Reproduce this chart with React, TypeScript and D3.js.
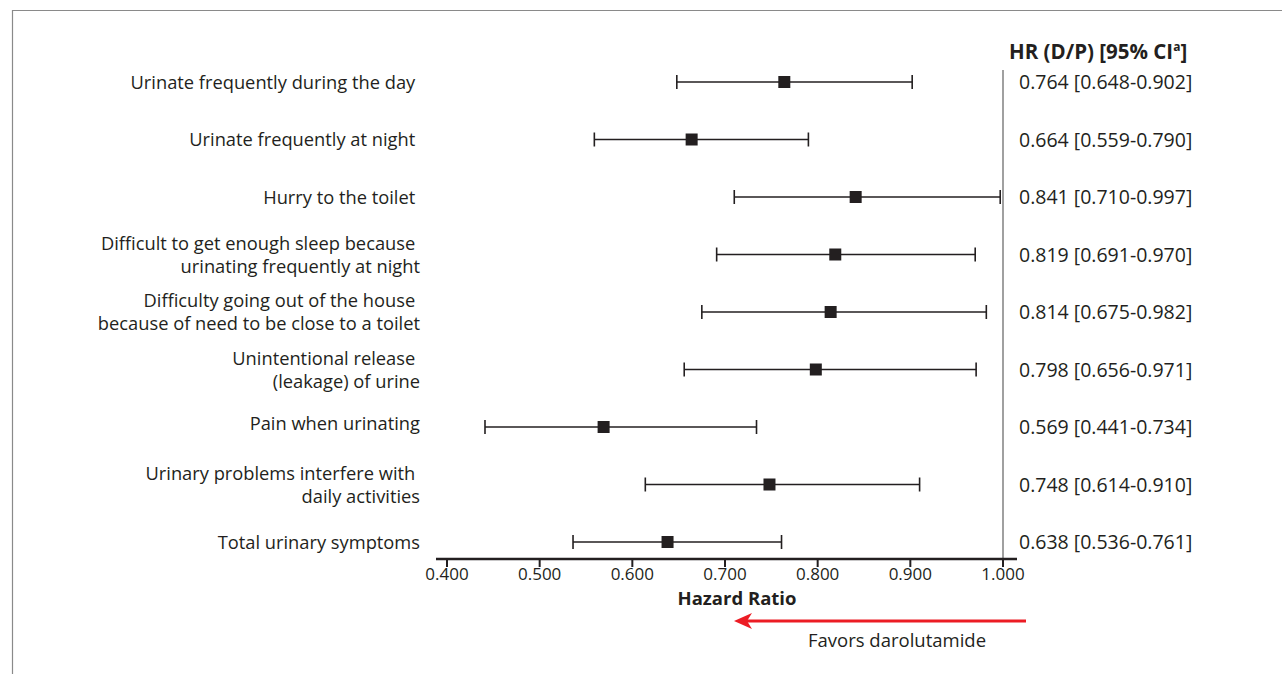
import React from "react";
import * as d3 from "d3";

// symptom labels, one entry per row (trailing spaces kept as in the source)
const labels: string[][] = [
  ["Urinate frequently during the day "],
  ["Urinate frequently at night "],
  ["Hurry to the toilet "],
  ["Difficult to get enough sleep because ", "urinating frequently at night"],
  ["Difficulty going out of the house ", "because of need to be close to a toilet"],
  ["Unintentional release ", "(leakage) of urine"],
  ["Pain when urinating"],
  ["Urinary problems interfere with ", "daily activities"],
  ["Total urinary symptoms"],
];
const hr = [0.764, 0.664, 0.841, 0.819, 0.814, 0.798, 0.569, 0.748, 0.638];
const lower = [0.648, 0.559, 0.71, 0.691, 0.675, 0.656, 0.441, 0.614, 0.536];
const upper = [0.902, 0.79, 0.997, 0.97, 0.982, 0.971, 0.734, 0.91, 0.761];
const ticks = [0.4, 0.5, 0.6, 0.7, 0.8, 0.9, 1.0];

const W = 1282;
const H = 674;
const FONT = "'Open Sans', 'Noto Sans', sans-serif";
const INK = "#231f20";

export default function App() {
  const x = d3.scaleLinear().domain([0.4, 1.0]).range([447, 1003]);
  const y = d3
    .scalePoint<number>()
    .domain(d3.range(hr.length))
    .range([82, 542]);
  const axisY = 559;
  const fmt = d3.format(".3f");

  return (
    <svg
      width={W}
      height={H}
      style={{ position: "absolute", left: 0, top: 0, background: "#fff" }}
      fontFamily={FONT}
    >
      {/* frame */}
      <path d={`M12.5,${H} V10.5 H${W}`} fill="none" stroke="#8a8a8a" strokeWidth={1.2} />

      {/* reference line at HR = 1 */}
      <line x1={x(1)} x2={x(1)} y1={70} y2={axisY} stroke="#a0a0a0" strokeWidth={2} />

      {/* row labels, two-line ones split into separate texts */}
      {labels.map((lines, i) =>
        lines.map((t, j) => (
          <text
            key={`${i}-${j}`}
            x={420}
            y={y(i)! + 6.5 + (lines.length === 2 ? (j === 0 ? -11.5 : 11.5) : i === 6 ? -4 : 0)}
            textAnchor="end"
            fontSize={18.3}
            fill={INK}
            style={{ whiteSpace: "pre" }}
          >
            {t}
          </text>
        ))
      )}

      {/* confidence intervals and point estimates */}
      {hr.map((v, i) => {
        const cy = y(i)!;
        return (
          <g key={i} stroke={INK} strokeWidth={1.6}>
            <line x1={x(lower[i])} x2={x(upper[i])} y1={cy} y2={cy} />
            <line x1={x(lower[i])} x2={x(lower[i])} y1={cy - 7} y2={cy + 7} />
            <line x1={x(upper[i])} x2={x(upper[i])} y1={cy - 7} y2={cy + 7} />
            <rect x={x(v) - 6} y={cy - 6} width={12} height={12} fill={INK} stroke="none" />
          </g>
        );
      })}

      {/* right column */}
      <text x={1009} y={59} fontSize={20.5} fontWeight="bold" fill={INK}>
        HR (D/P) [95% CI
        <tspan fontSize={12} dy={-8}>a</tspan>
        <tspan dy={8}>]</tspan>
      </text>
      {hr.map((v, i) => (
        <text key={i} x={1019} y={y(i)! + 7} fontSize={19.5} fill={INK}>
          {`${fmt(v)} [${fmt(lower[i])}-${fmt(upper[i])}]`}
        </text>
      ))}

      {/* x axis */}
      <line x1={436} x2={1017} y1={axisY} y2={axisY} stroke={INK} strokeWidth={2.4} />
      {ticks.map((t) => (
        <g key={t}>
          <line x1={x(t)} x2={x(t)} y1={axisY} y2={axisY + 8} stroke={INK} strokeWidth={2} />
          <text x={x(t)} y={axisY + 21} textAnchor="middle" fontSize={17} fill={INK}>
            {fmt(t)}
          </text>
        </g>
      ))}
      <text x={737} y={605} textAnchor="middle" fontSize={18.5} fontWeight="bold" fill={INK}>
        Hazard Ratio
      </text>

      {/* favors arrow */}
      <line x1={1026} x2={745} y1={621} y2={621} stroke="#ec1c24" strokeWidth={3} />
      <path d="M734,621 L752,613 L747,621 L752,629 Z" fill="#ec1c24" />
      <text x={897} y={647} textAnchor="middle" fontSize={18.5} fill={INK}>
        Favors darolutamide
      </text>
    </svg>
  );
}
